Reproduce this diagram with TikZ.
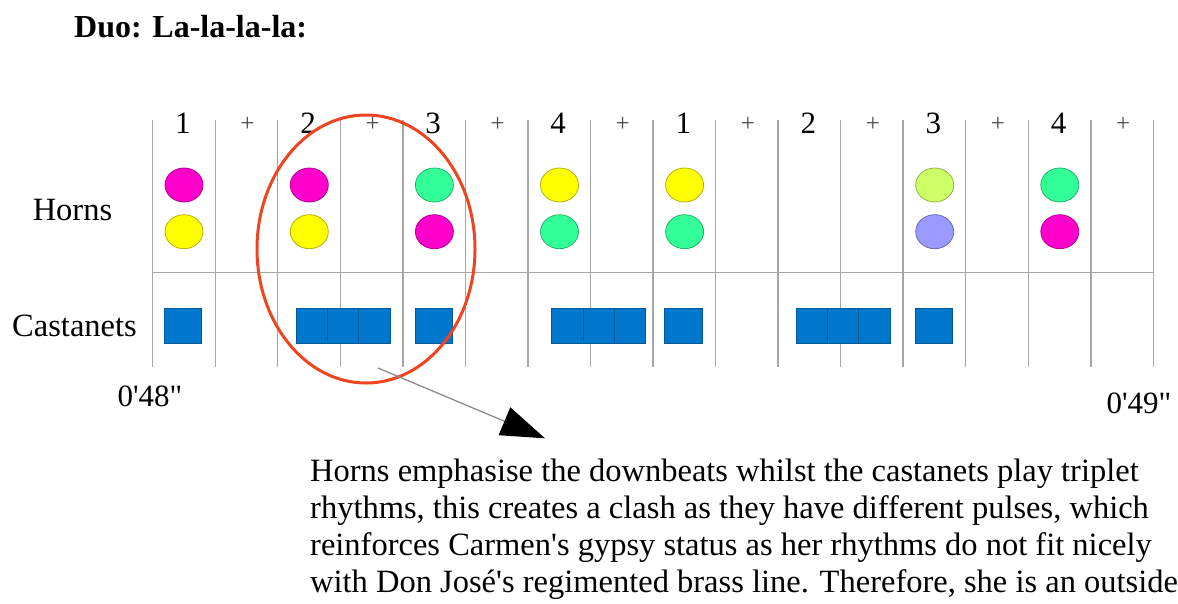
\documentclass[tikz,border=0pt]{standalone}
\usepackage{fontspec}
\setmainfont{Liberation Serif}
\usetikzlibrary{shapes.geometric,arrows.meta}
\definecolor{hmag}{HTML}{FF00CC}
\definecolor{hyel}{HTML}{FFFF00}
\definecolor{hgrn}{HTML}{33FF99}
\definecolor{hlim}{HTML}{CCFF66}
\definecolor{hlav}{HTML}{9999FF}
\definecolor{castblue}{HTML}{0077CC}
\definecolor{ringred}{HTML}{EE4422}
\tikzset{%
  hdot/.style={draw=#1!70!black,fill=#1,shape=ellipse,minimum width=38pt,minimum height=34pt,inner sep=0,line width=0.8pt},
  cbox/.style={draw=castblue!75!black,fill=castblue,minimum width=#1,minimum height=35pt,inner sep=0,line width=0.8pt},
  cbox/.default=37.7pt,
  tbox/.style={cbox=31.3pt},
  gridline/.style={draw=black!35,line width=1.4pt},
  beatnum/.style={font=\fontsize{31}{31}\selectfont,anchor=base,inner sep=0},
  beatplus/.style={font=\fontsize{25}{25}\selectfont,text=black!70,anchor=base,inner sep=0},
  rowlab/.style={font=\fontsize{32.5}{32.5}\selectfont,anchor=base,inner sep=0},
  timelab/.style={font=\fontsize{31}{31}\selectfont,anchor=base,inner sep=0},
  bodyline/.style={font=\fontsize{32.5}{32.5}\selectfont,anchor=base west,inner sep=0}
}
\begin{document}
\begin{tikzpicture}[x=1pt,y=-1pt]
  \clip (0,0) rectangle (1178,603);
  \node[font=\bfseries\fontsize{32}{32}\selectfont,anchor=base west,inner sep=0] (title) at (74,37.5) {Duo: La-la-la-la:};
  % grid
  \foreach \k in {0,...,16}
    \draw[gridline] ({152.7+62.54*\k},120) -- ({152.7+62.54*\k},367);
  \draw[gridline] (151.5,272.7) -- (1153.5,272.7);
  % counts
  \foreach \n [count=\i from 0] in {1,2,3,4,1,2,3,4}
    \node[beatnum] (n\i) at ({152.7+62.54*(2*\i+0.5)-1},133.3) {\n};
  \foreach \i in {0,...,7}
    \node[beatplus] (p\i) at ({152.7+62.54*(2*\i+1.5)+1},131) {+};
  \node[rowlab] (horns) at (72.5,220) {Horns};
  \node[rowlab] (cast) at (74.5,336.7) {Castanets};
  % horns
  \path
    (184,185) node[hdot=hmag] (h_1a){}  (184,231.7) node[hdot=hyel] (h_1b){}
    (309.3,185) node[hdot=hmag] (h_2a){}  (309.3,231.7) node[hdot=hyel] (h_2b){}
    (434.4,185) node[hdot=hgrn] (h_3a){}  (434.4,231.7) node[hdot=hmag] (h_3b){}
    (559.5,185) node[hdot=hyel] (h_4a){}  (559.5,231.7) node[hdot=hgrn] (h_4b){}
    (684.6,185) node[hdot=hyel] (h_5a){}  (684.6,231.7) node[hdot=hgrn] (h_5b){}
    (934.7,185) node[hdot=hlim] (h_7a){}  (934.7,231.7) node[hdot=hlav] (h_7b){}
    (1059.8,185) node[hdot=hgrn] (h_8a){}  (1059.8,231.7) node[hdot=hmag] (h_8b){};
  % castanets
  \path
    (183,325.8) node[cbox] (c_1){}
    (311.7,325.8) node[tbox] (c_2a){} (343,325.8) node[tbox] (c_2b){} (374.3,325.8) node[tbox] (c_2c){}
    (433.8,325.8) node[cbox] (c_3){}
    (567.3,325.8) node[tbox] (c_4a){} (598.7,325.8) node[tbox] (c_4b){} (630,325.8) node[tbox] (c_4c){}
    (683.7,325.8) node[cbox] (c_5){}
    (811.7,325.8) node[tbox] (c_6a){} (843,325.8) node[tbox] (c_6b){} (874.3,325.8) node[tbox] (c_6c){}
    (934,325.8) node[cbox] (c_7){};
  \node[timelab] (t_a) at (150,406.7) {0\textquotesingle 48\textquotedbl};
  \node[timelab] (t_b) at (1139,413.3) {0\textquotesingle 49\textquotedbl};
  % note
  \node[draw=ringred,line width=3pt,shape=ellipse,minimum width=218pt,minimum height=268pt,inner sep=0] (ring) at (366,249) {};
  \coordinate (from) at (378,368);
  \coordinate (to) at (545,438.3);
  \draw[black!45,line width=1.3pt,-{Triangle[length=44pt,width=30pt,black]}] (from) -- (to);
  \node[bodyline] (t1) at (310,481) {Horns emphasise the downbeats whilst the castanets play triplet};
  \node[bodyline] (t2) at (310,518.5) {rhythms, this creates a clash as they have different pulses, which};
  \node[bodyline] (t3) at (310,555.5) {reinforces Carmen\textquotesingle s gypsy status as her rhythms do not fit nicely};
  \node[bodyline] (t4) at (310,592) {with Don José\textquotesingle s regimented brass line. Therefore, she is an outsider};
\end{tikzpicture}
\end{document}
